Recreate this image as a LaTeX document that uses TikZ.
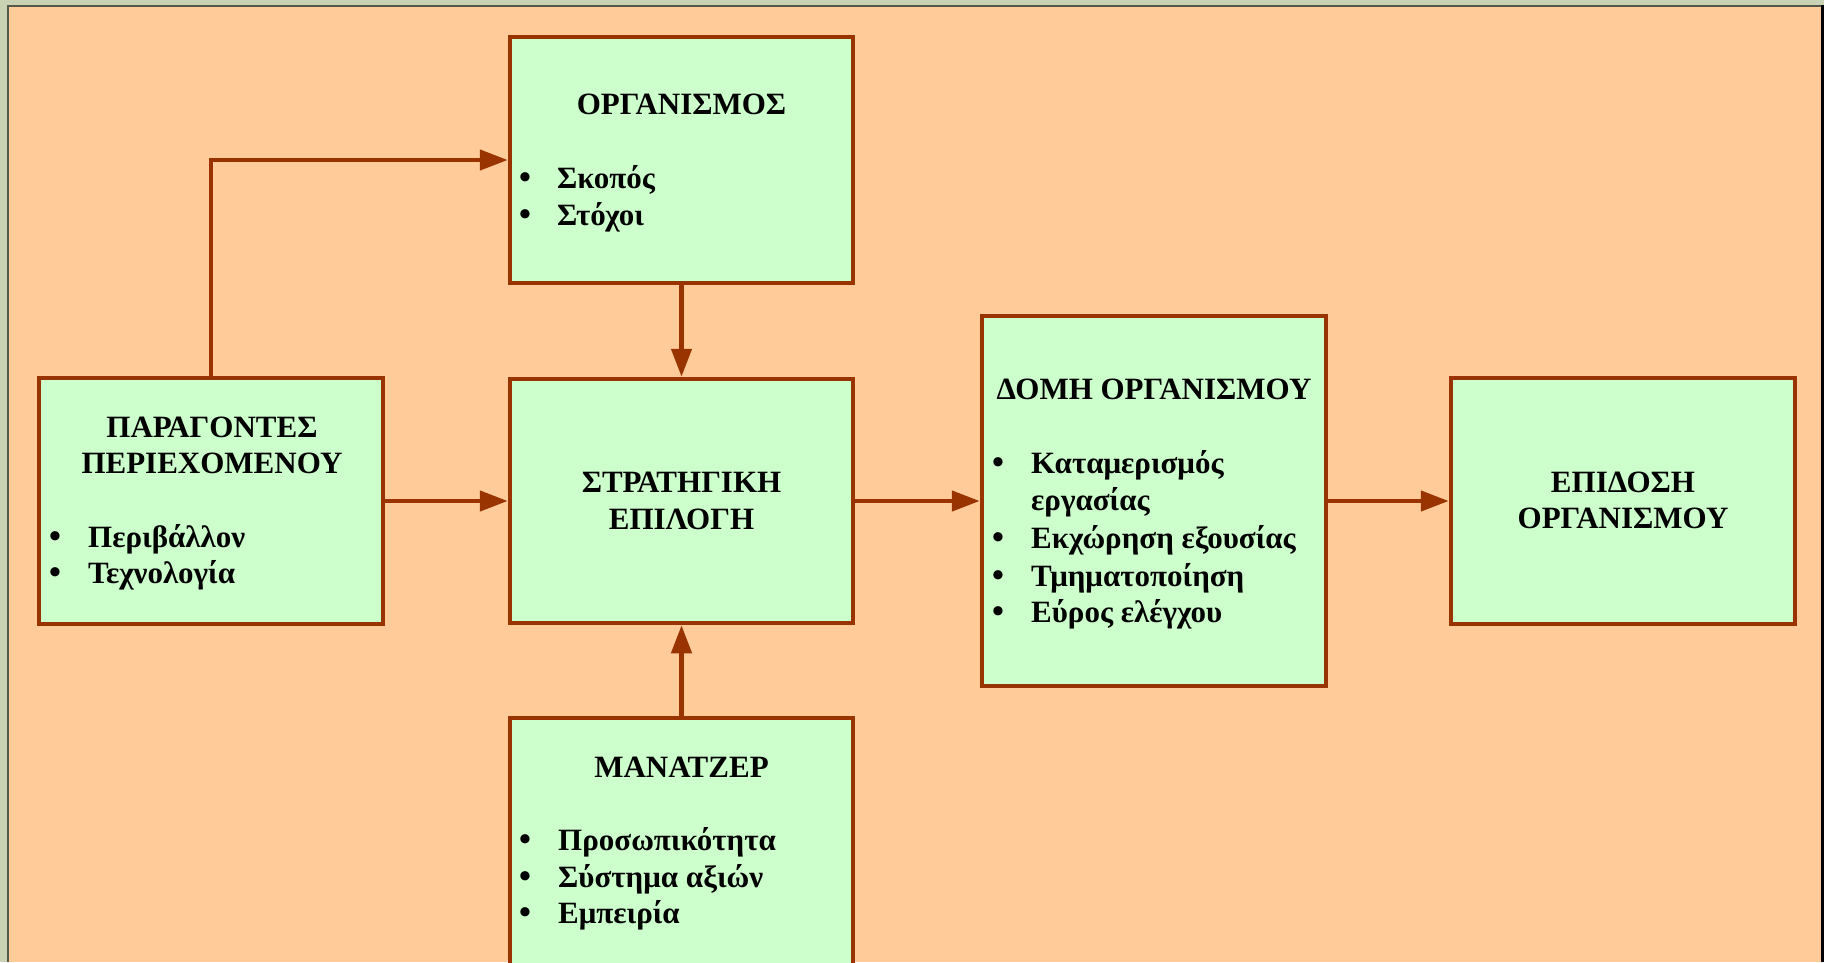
\documentclass[tikz,border=0pt]{standalone}
\usepackage{fontspec}
\setmainfont{Liberation Serif}
\usetikzlibrary{arrows.meta}
\definecolor{peach}{HTML}{FFCC99}
\definecolor{mint}{HTML}{CCFFCC}
\definecolor{rust}{HTML}{993300}
\definecolor{edgegreen}{HTML}{C9D3B3}
\definecolor{edgedark}{HTML}{55584A}

\begin{document}
\begin{tikzpicture}[x=1pt,y=-1pt,
  block/.style={draw=rust, fill=mint, line width=4.5pt, rectangle, inner sep=0pt},
  link/.style={draw=rust, line width=4.5pt, -{Triangle[length=28pt,width=20pt]}},
  lbl/.style={font=\fontsize{31}{37}\selectfont\bfseries, inner sep=0pt, text=black},
  head/.style={lbl, anchor=base},
  item/.style={lbl, anchor=base west},
  dot/.style={lbl, anchor=base, font=\fontsize{34}{37}\selectfont\bfseries}
]
\useasboundingbox (0,0) rectangle (1824,962);
% page background and frame
\fill[peach] (0,0) rectangle (1824,962);
\fill[edgegreen] (0,0) rectangle (1824,5);
\fill[edgegreen] (0,0) rectangle (7,962);
\fill[edgedark] (7,5) rectangle (9,962);
\fill[edgedark] (7,5) rectangle (1822,7);
\fill[black] (1821,5) rectangle (1824,962);

% boxes
\node[block, minimum width=343pt, minimum height=246pt] (org)   at (681.5,160) {};
\node[block, minimum width=343pt, minimum height=244pt] (strat) at (681.5,501) {};
\node[block, minimum width=344pt, minimum height=246pt] (par)   at (211,501) {};
\node[block, minimum width=344pt, minimum height=370pt] (domh)  at (1154,501) {};
\node[block, minimum width=344pt, minimum height=246pt] (epid)  at (1623,501) {};
\node[block, minimum width=343pt, minimum height=292pt] (man)   at (681.5,864) {};

% connectors
\draw[link] (par.north) |- (org.west);
\draw[link] (org.south) -- (strat.north);
\draw[link] (man.north) -- (strat.south);
\draw[link] (par.east) -- (strat.west);
\draw[link] (strat.east) -- (domh.west);
\draw[link] (domh.east) -- (epid.west);

% ΟΡΓΑΝΙΣΜΟΣ
\node[head] (orgT) at (681.5,114) {ΟΡΓΑΝΙΣΜΟΣ};
\node[dot] (orgB1) at (525,188) {\textbullet};
\node[item] (orgI1) at (557,188) {Σκοπός};
\node[dot] (orgB2) at (525,225) {\textbullet};
\node[item] (orgI2) at (557,225) {Στόχοι};

% ΠΑΡΑΓΟΝΤΕΣ ΠΕΡΙΕΧΟΜΕΝΟΥ
\node[head] (parT1) at (212,437) {ΠΑΡΑΓΟΝΤΕΣ};
\node[head] (parT2) at (212,473) {ΠΕΡΙΕΧΟΜΕΝΟΥ};
\node[dot] (parB1) at (55,547) {\textbullet};
\node[item] (parI1) at (88,547) {Περιβάλλον};
\node[dot] (parB2) at (55,583) {\textbullet};
\node[item] (parI2) at (88,583) {Τεχνολογία};

% ΣΤΡΑΤΗΓΙΚΗ ΕΠΙΛΟΓΗ
\node[head] (stratT1) at (681.5,492) {ΣΤΡΑΤΗΓΙΚΗ};
\node[head] (stratT2) at (681.5,529) {ΕΠΙΛΟΓΗ};

% ΔΟΜΗ ΟΡΓΑΝΙΣΜΟΥ
\node[head] (domhT) at (1154,399) {ΔΟΜΗ ΟΡΓΑΝΙΣΜΟΥ};
\node[dot] (domhB1) at (998,473) {\textbullet};
\node[item] (domhI1) at (1031,473) {Καταμερισμός};
\node[item] (domhI1b) at (1031,510) {εργασίας};
\node[dot] (domhB2) at (998,548) {\textbullet};
\node[item] (domhI2) at (1031,548) {Εκχώρηση εξουσίας};
\node[dot] (domhB3) at (998,586) {\textbullet};
\node[item] (domhI3) at (1031,586) {Τμηματοποίηση};
\node[dot] (domhB4) at (998,622) {\textbullet};
\node[item] (domhI4) at (1031,622) {Εύρος ελέγχου};

% ΕΠΙΔΟΣΗ ΟΡΓΑΝΙΣΜΟΥ
\node[head] (epidT1) at (1623,492) {ΕΠΙΔΟΣΗ};
\node[head] (epidT2) at (1623,528) {ΟΡΓΑΝΙΣΜΟΥ};

% ΜΑΝΑΤΖΕΡ
\node[head] (manT) at (681.5,777) {ΜΑΝΑΤΖΕΡ};
\node[dot] (manB1) at (525,850) {\textbullet};
\node[item] (manI1) at (558,850) {Προσωπικότητα};
\node[dot] (manB2) at (525,887) {\textbullet};
\node[item] (manI2) at (558,887) {Σύστημα αξιών};
\node[dot] (manB3) at (525,923) {\textbullet};
\node[item] (manI3) at (558,923) {Εμπειρία};
\end{tikzpicture}
\end{document}
